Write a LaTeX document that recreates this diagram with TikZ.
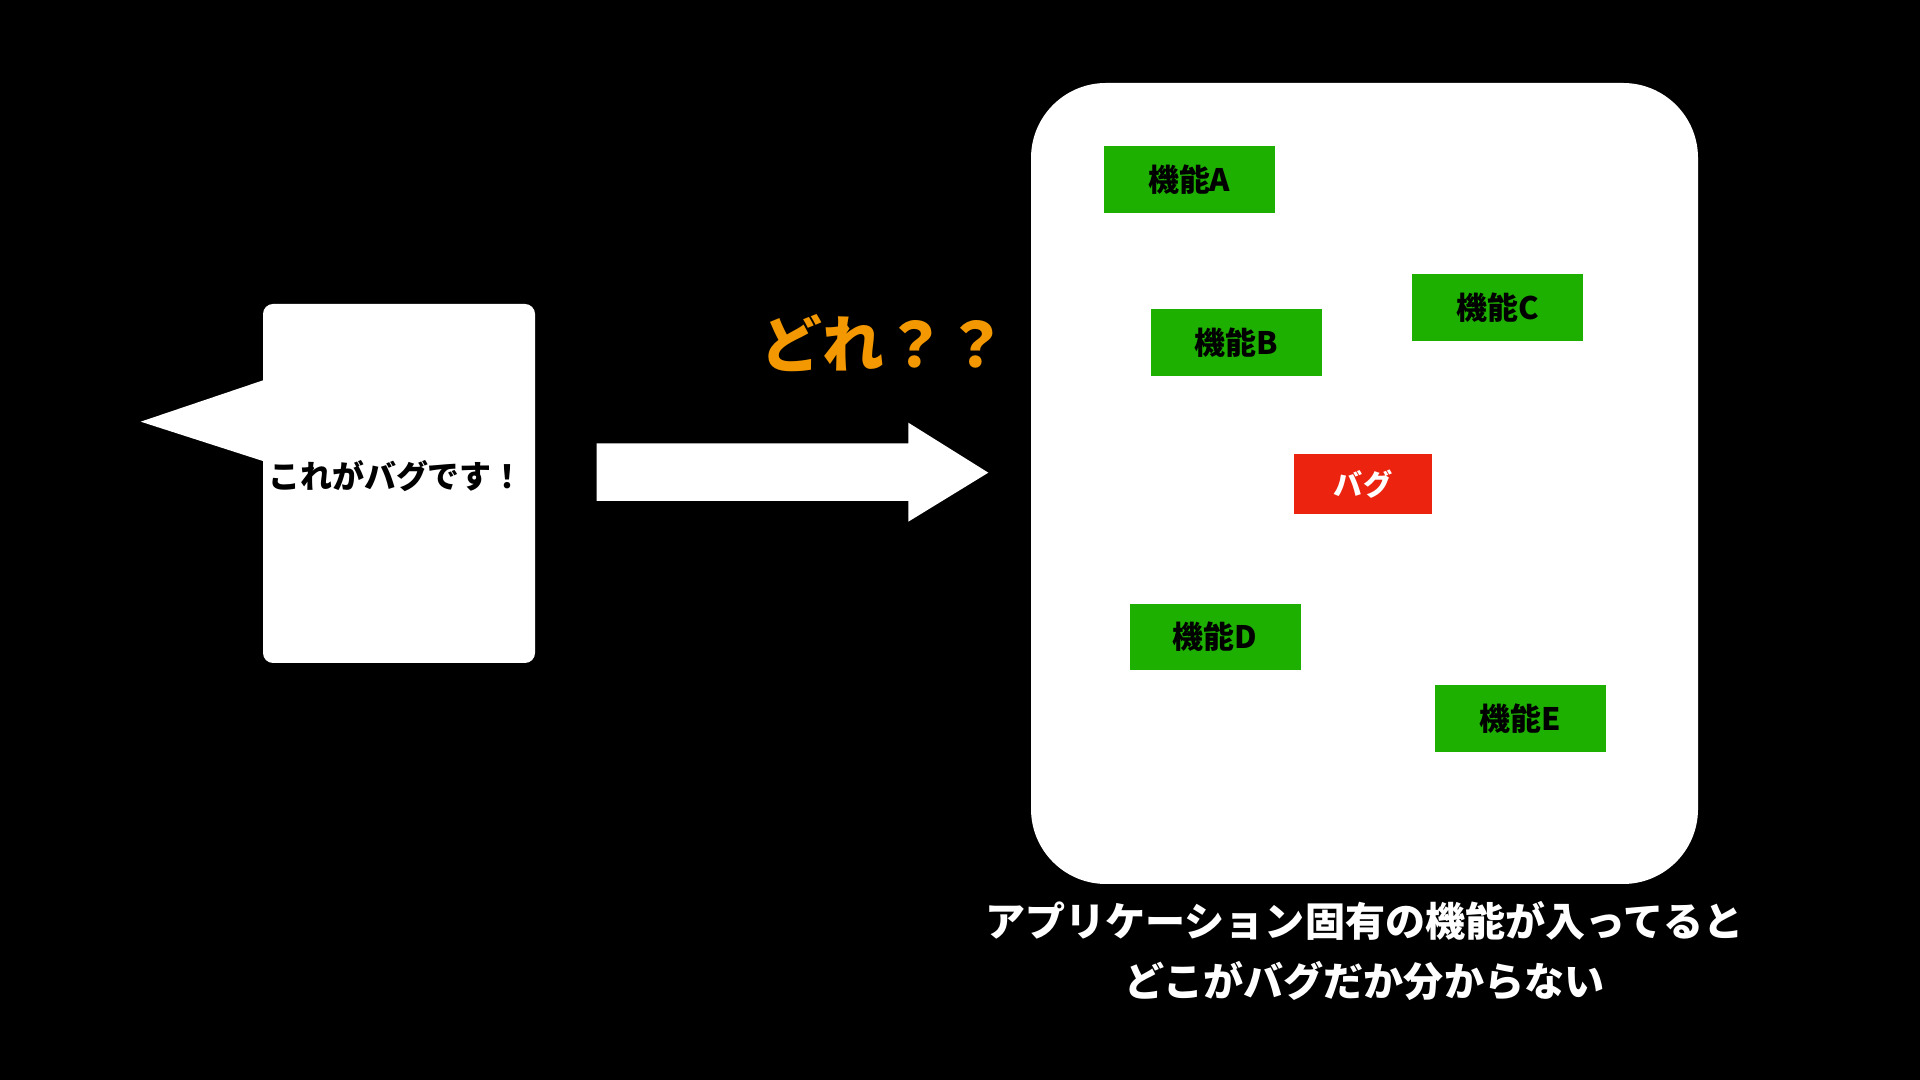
\documentclass[tikz,border=0pt]{standalone}
\usepackage{fontspec}
\setmainfont{Noto Sans CJK JP}
\definecolor{featgreen}{RGB}{30,176,0}
\definecolor{bugred}{RGB}{235,35,15}
\definecolor{whichorange}{RGB}{243,152,0}

\begin{document}
\begin{tikzpicture}[
    every node/.style={inner sep=0pt},
    feature/.style={fill=featgreen, text=black, minimum width=1.71cm, minimum height=0.665cm, font=\bfseries\fontsize{8.8}{10}\selectfont},
    bugbox/.style={fill=bugred, text=white, minimum width=1.375cm, minimum height=0.6cm, font=\bfseries\fontsize{8.3}{10}\selectfont}
  ]
  % Background
  \fill[black] (0,0) rectangle (19.2,10.8);
  \useasboundingbox (0,0) rectangle (19.2,10.8);

  % Speech bubble
  \node[fill=white, rounded corners=0.1cm, minimum width=2.72cm, minimum height=3.59cm] (bubble) at (3.99, 5.965) {};
  \fill[white] (1.407, 6.583) -- (2.70, 7.02) -- (2.70, 6.167) -- cycle;
  \node[font=\bfseries\fontsize{9.1}{10}\selectfont] (bubbletext) at (3.96, 6.04) {これがバグです！};

  % Arrow
  \fill[white] (5.967, 6.367) -- (9.083, 6.367) -- (9.083, 6.573) -- (9.883, 6.073)
    -- (9.083, 5.583) -- (9.083, 5.79) -- (5.967, 5.79) -- cycle;

  % Question
  \node[text=whichorange, font=\bfseries\fontsize{17.6}{19}\selectfont] (which) at (8.84, 7.37) {どれ？？};

  % Application
  \node[fill=white, rounded corners=0.75cm, minimum width=6.67cm, minimum height=8.01cm] (app) at (13.645, 5.965) {};

  % Features
  \node[feature] (featA) at (11.892, 9.003) {機能A};
  \node[feature] (featB) at (12.366, 7.374) {機能B};
  \node[feature] (featC) at (14.975, 7.723) {機能C};
  \node[feature] (featD) at (12.15, 4.43) {機能D};
  \node[feature] (featE) at (15.205, 3.617) {機能E};
  \node[bugbox] (bug) at (13.63, 5.958) {バグ};

  % Caption
  \node[text=white, align=center, font=\bfseries\fontsize{11.4}{16.8}\selectfont] (caption) at (13.645, 1.29)
    {アプリケーション固有の機能が入ってると\\どこがバグだか分からない};
\end{tikzpicture}
\end{document}
